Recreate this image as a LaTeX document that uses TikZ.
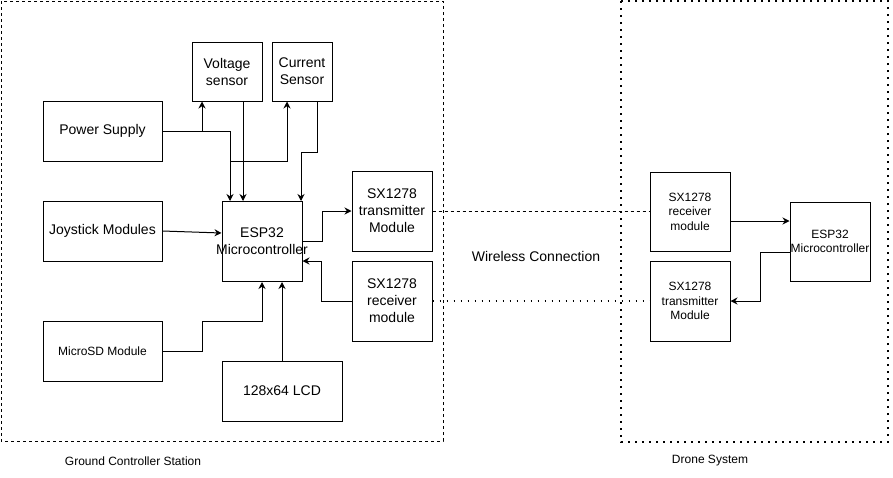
\documentclass[tikz,border=0pt]{standalone}
\usepackage{fontspec}
\setmainfont{Liberation Sans}
\usetikzlibrary{arrows.meta}
\begin{document}
\begin{tikzpicture}[x=1pt,y=-1pt,
  box/.style={draw,line width=1pt,inner sep=0pt,align=center,font=\fontsize{14}{17}\selectfont},
  sbox/.style={draw,line width=1pt,inner sep=0pt,align=center,font=\fontsize{12}{14.5}\selectfont},
  txt/.style={inner sep=0pt,align=center,font=\fontsize{14}{17}\selectfont},
  stxt/.style={inner sep=0pt,align=center,font=\fontsize{12}{14.5}\selectfont},
  arr/.style={line width=1pt,-{Stealth[length=7pt,width=7pt]}},
  conn/.style={line width=1pt},
  gdash/.style={line width=1pt,dash pattern=on 3pt off 3pt},
  ddot/.style={line width=1.6pt,dash pattern=on 1.6pt off 5.4pt}]
\useasboundingbox (0,0) rectangle (893,477);
% group frames
\draw[gdash] (1,1) rectangle (443,441);
\draw[ddot] (621,1) rectangle (888,442);
\node[stxt] (gcs) at (133,461) {Ground Controller Station};
\node[stxt] (ds) at (710,461) {Drone System};
% ground boxes
\node[box,minimum width=119pt,minimum height=60pt] (power) at (102.5,131) {Power Supply};
\node[box,minimum width=119pt,minimum height=60pt] (joy) at (102.5,231) {Joystick Modules};
\node[sbox,minimum width=119pt,minimum height=60pt] (sd) at (102.5,351) {MicroSD Module};
\node[box,minimum width=120pt,minimum height=60pt] (lcd) at (282,391) {128x64 LCD};
\node[box,minimum width=70pt,minimum height=59pt] (volt) at (227,71.5) {Voltage\\sensor};
\node[box,minimum width=60pt,minimum height=59pt] (curr) at (302,71.5) {Current\\Sensor};
\node[box,minimum width=80pt,minimum height=80pt] (esp) at (262,241.5) {};
\node[txt] (espt) at (esp) {ESP32\\Microcontroller};
\node[box,minimum width=80pt,minimum height=80pt] (tx) at (392,211) {SX1278\\transmitter\\Module};
\node[box,minimum width=80pt,minimum height=80pt] (rx) at (392,301) {SX1278\\receiver\\module};
% drone boxes
\node[sbox,minimum width=80pt,minimum height=79pt] (rrx) at (690,211.5) {SX1278\\receiver\\module};
\node[sbox,minimum width=80pt,minimum height=80pt] (rtx) at (690,301) {SX1278\\transmitter\\Module};
\node[sbox,minimum width=80pt,minimum height=79pt] (resp) at (830,241.5) {ESP32\\Microcontroller};
\node[txt] (wl) at (536,256) {Wireless Connection};
% ground connectors
\coordinate (br) at (230,161);
\draw[arr] (power.east) -| ([xshift=-25pt]volt.south);
\draw[arr] (power.east) -| ([xshift=-32pt]esp.north);
\draw[arr] ([xshift=16pt]volt.south) -- ([xshift=16pt]volt.south |- esp.north);
\draw[arr] (br) -| ([xshift=-15pt]curr.south);
\draw[arr] ([xshift=15pt]curr.south) -- ++(0,51) -| ([xshift=39pt]esp.north);
\draw[arr] (joy.east) -- ([yshift=8.5pt]esp.west);
\draw[arr] (esp.east) -- ++(20,0) |- (tx.west);
\draw[arr] (rx.west) -- ++(-30,0) |- ([yshift=-19.5pt]esp.east);
\draw[arr] (sd.east) -- ++(40,0) -- ++(0,-30) -| (esp.south);
\draw[arr] (lcd.north) -- ([xshift=20pt]esp.south);
% wireless links
\draw[gdash] (tx.east) -- (rrx.west |- tx.east);
\draw[ddot] (rx.east) -- (rtx.west);
% drone connectors
\draw[arr] ([yshift=-9.5pt]rrx.east) -- ([yshift=20.5pt]resp.west);
\draw[arr] ([yshift=-10.5pt]resp.west) -- ++(-29,0) |- (rtx.east);
\end{tikzpicture}
\end{document}
